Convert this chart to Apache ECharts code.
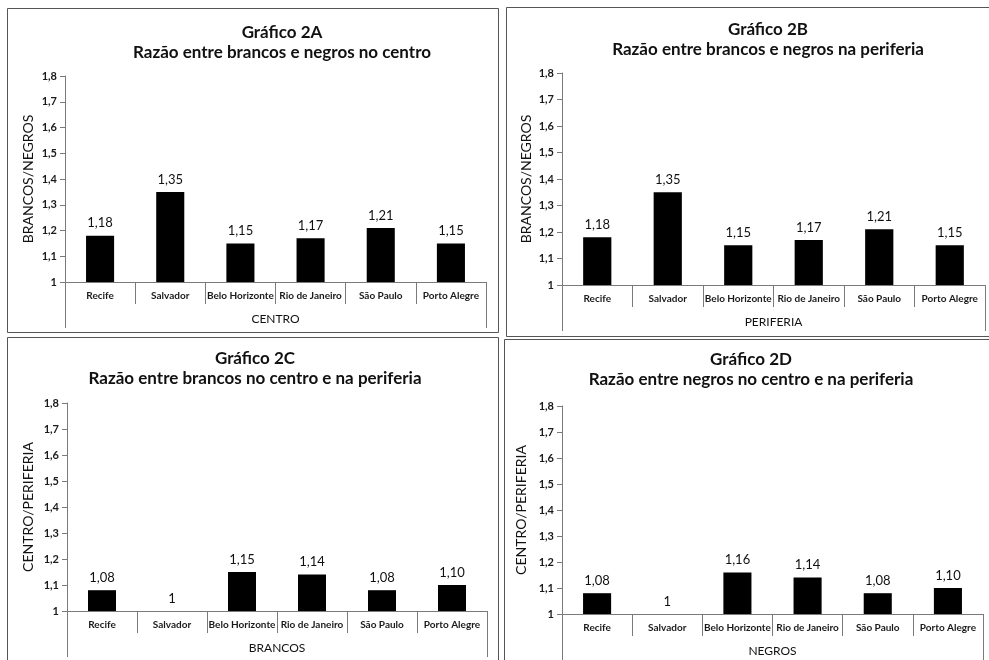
<!DOCTYPE html>
<html>
<head>
<meta charset="utf-8">
<script src="https://cdn.jsdelivr.net/npm/echarts@6/dist/echarts.min.js"></script>
<style>html,body{margin:0;padding:0;background:#fff;}#c{width:989px;height:660px;}</style>
</head>
<body>
<div id="c"></div>
<script>
const cities = ['Recife', 'Salvador', 'Belo Horizonte', 'Rio de Janeiro', 'São Paulo', 'Porto Alegre'];
const centroBN = [1.18, 1.35, 1.15, 1.17, 1.21, 1.15];
const periferiaBN = [1.18, 1.35, 1.15, 1.17, 1.21, 1.15];
const brancosCP = [1.08, 1.00, 1.15, 1.14, 1.08, 1.10];
const negrosCP = [1.08, 1.00, 1.16, 1.14, 1.08, 1.10];
const titles = ['Gráfico 2A\nRazão entre brancos e negros no centro',
                'Gráfico 2B\nRazão entre brancos e negros na periferia',
                'Gráfico 2C\nRazão entre brancos no centro e na periferia',
                'Gráfico 2D\nRazão entre negros no centro e na periferia'];
const yNames = ['BRANCOS/NEGROS', 'BRANCOS/NEGROS', 'CENTRO/PERIFERIA', 'CENTRO/PERIFERIA'];
const groupNames = ['CENTRO', 'PERIFERIA', 'BRANCOS', 'NEGROS'];
const yMin = 1, yMax = 1.8, yStep = 0.1;

const FONT = 'Lato';
const AX = '#7a7a7a';
const panels = [centroBN, periferiaBN, brancosCP, negrosCP];
const grids = [
  {left: 65, right: 503, top: 76, bottom: 378},
  {left: 562, right: 4, top: 73, bottom: 375},
  {left: 67, right: 502, top: 403, bottom: 49},
  {left: 562, right: 6, top: 406, bottom: 46}
];
const titlePos = [{x: 282, y: 23}, {x: 768, y: 20}, {x: 255, y: 349}, {x: 751, y: 350}];
const nameGaps = [30, 29, 32, 34];

const fmtVal = v => v === 1 ? '1' : v.toFixed(2).replace('.', ',');
const fmtTick = v => (Math.round(v * 10) / 10).toString().replace('.', ',');

const option = {
  animation: false,
  backgroundColor: '#fff',
  textStyle: {fontFamily: FONT},
  title: titles.map((t, i) => ({
    text: t, left: titlePos[i].x, top: titlePos[i].y, textAlign: 'center', padding: 0,
    textStyle: {fontFamily: FONT, fontWeight: 'bold', fontSize: 17, color: '#111', lineHeight: 20}
  })),
  grid: grids.map(g => Object.assign({containLabel: false}, g)),
  xAxis: [],
  yAxis: [],
  series: [],
  graphic: [
    {type: 'rect', shape: {x: 7.5, y: 8.5, width: 491, height: 324}, style: {fill: 'none', stroke: '#555', lineWidth: 1}},
    {type: 'rect', shape: {x: 506.5, y: 7.5, width: 484, height: 329}, style: {fill: 'none', stroke: '#555', lineWidth: 1}},
    {type: 'rect', shape: {x: 7.5, y: 337.5, width: 491, height: 330}, style: {fill: 'none', stroke: '#555', lineWidth: 1}},
    {type: 'rect', shape: {x: 504.5, y: 339.5, width: 490, height: 330}, style: {fill: 'none', stroke: '#555', lineWidth: 1}}
  ]
};

panels.forEach((vals, i) => {
  option.xAxis.push({
    type: 'category', gridIndex: i, position: 'bottom', data: cities,
    axisLine: {lineStyle: {color: AX, width: 1}},
    axisTick: {show: true, interval: 0, length: 22, lineStyle: {color: AX}},
    axisLabel: {interval: 0, margin: 9, fontFamily: FONT, fontWeight: 'bold', fontSize: 10, color: '#1a1a1a'}
  });
  option.xAxis.push({
    type: 'category', gridIndex: i, position: 'bottom', data: [groupNames[i]],
    axisLine: {show: false},
    axisTick: {show: true, interval: 0, length: 46, lineStyle: {color: AX}},
    axisLabel: {margin: 31, fontFamily: FONT, fontSize: 12, color: '#111'}
  });
  option.yAxis.push({
    type: 'value', gridIndex: i, min: yMin, max: yMax, interval: yStep,
    name: yNames[i], nameLocation: 'middle', nameGap: nameGaps[i], nameRotate: 90,
    nameTextStyle: {fontFamily: FONT, fontSize: 14, color: '#111'},
    splitLine: {show: false},
    axisLine: {show: true, lineStyle: {color: AX}},
    axisTick: {show: true, length: 5, lineStyle: {color: AX}},
    axisLabel: {margin: 8, formatter: fmtTick, fontFamily: FONT, fontWeight: 'bold', fontSize: 11, color: '#1a1a1a'}
  });
  option.series.push({
    type: 'bar', xAxisIndex: 2 * i, yAxisIndex: i, data: vals,
    barWidth: '40%',
    itemStyle: {color: '#000'},
    label: {show: true, position: 'top', distance: 6, formatter: p => fmtVal(p.value),
            fontFamily: FONT, fontSize: 13, color: '#111'}
  });
});

const chart = echarts.init(document.getElementById('c'), null, {renderer: 'canvas'});
chart.setOption(option);
</script>
</body>
</html>
